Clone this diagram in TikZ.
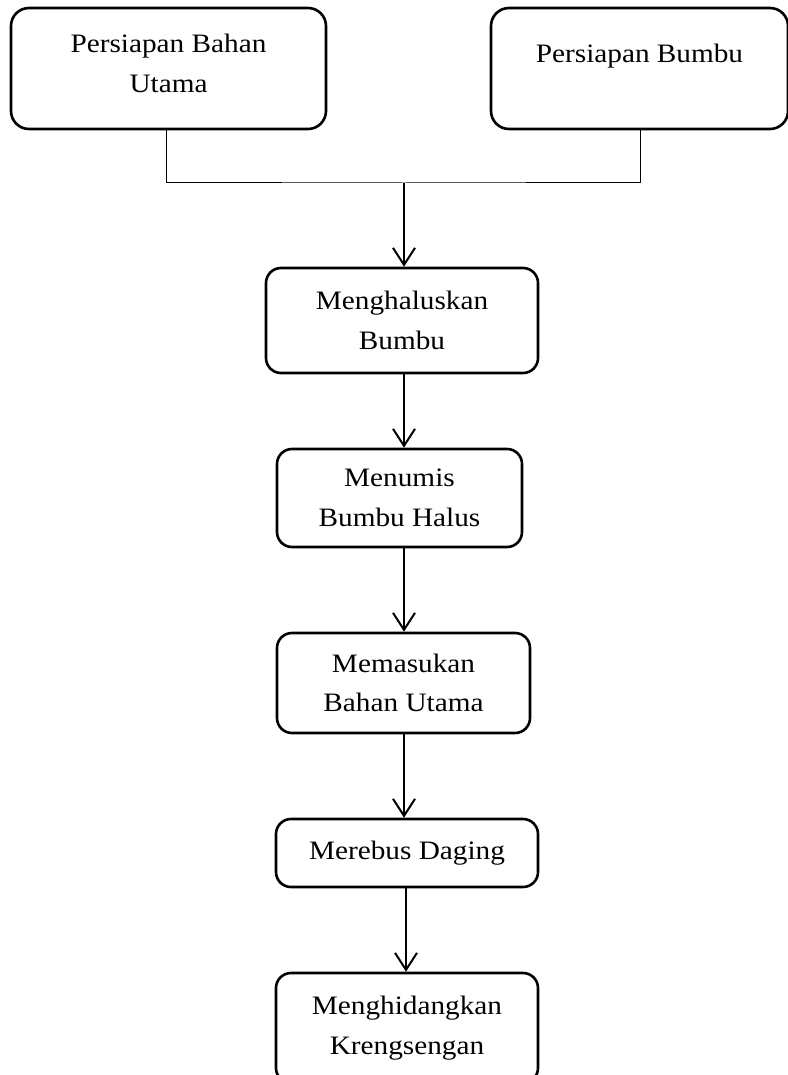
\documentclass[tikz,border=0pt]{standalone}
\usepackage{fontspec}
\setmainfont[FakeStretch=1.1]{Liberation Serif}
\usetikzlibrary{arrows.meta}
\begin{document}
\begin{tikzpicture}[x=1pt,y=-1pt,
  box/.style={draw, line width=2.6pt, rounded corners=15pt, align=center,
    font=\fontsize{26.6}{39.5}\selectfont, inner sep=0pt},
  arr/.style={line width=2pt, -{Straight Barb[length=17pt,width=22pt,line width=2pt]}},
  thin/.style={line width=1pt}]
\useasboundingbox (0,0) rectangle (787,1075);
\node[box, rounded corners=18pt, minimum width=315pt, minimum height=121pt, text depth=10pt] (b1) at (168.5,68.5) {Persiapan Bahan\\Utama};
\node[box, rounded corners=18pt, minimum width=297pt, minimum height=121pt, text height=20pt, text depth=31pt] (b2) at (639.5,68.5) {Persiapan Bumbu};
\node[box, minimum width=272pt, minimum height=105pt] (b3) at (402,320.5) {Menghaluskan\\Bumbu};
\node[box, minimum width=245pt, minimum height=98pt] (b4) at (399.5,498) {Menumis\\Bumbu Halus};
\node[box, minimum width=253pt, minimum height=100pt] (b5) at (403.5,683) {Memasukan\\Bahan Utama};
\node[box, minimum width=262pt, minimum height=68pt] (b6) at (407,853) {Merebus Daging};
\node[box, minimum width=262pt, minimum height=110pt] (b7) at (407,1028) {Menghidangkan\\Krengsengan};
\coordinate (j) at (404,183);
\coordinate (c1) at (404,0);
\coordinate (c2) at (406,0);
\draw[thin] (b1.south -| 166,0) |- (j) -| (b2.south -| 640,0);
\draw[arr] (j) -- (b3.north -| j);
\draw[arr] (b3.south -| c1) -- (b4.north -| c1);
\draw[arr] (b4.south -| c1) -- (b5.north -| c1);
\draw[arr] (b5.south -| c1) -- (b6.north -| c1);
\draw[arr] (b6.south -| c2) -- (b7.north -| c2);
\end{tikzpicture}
\end{document}
